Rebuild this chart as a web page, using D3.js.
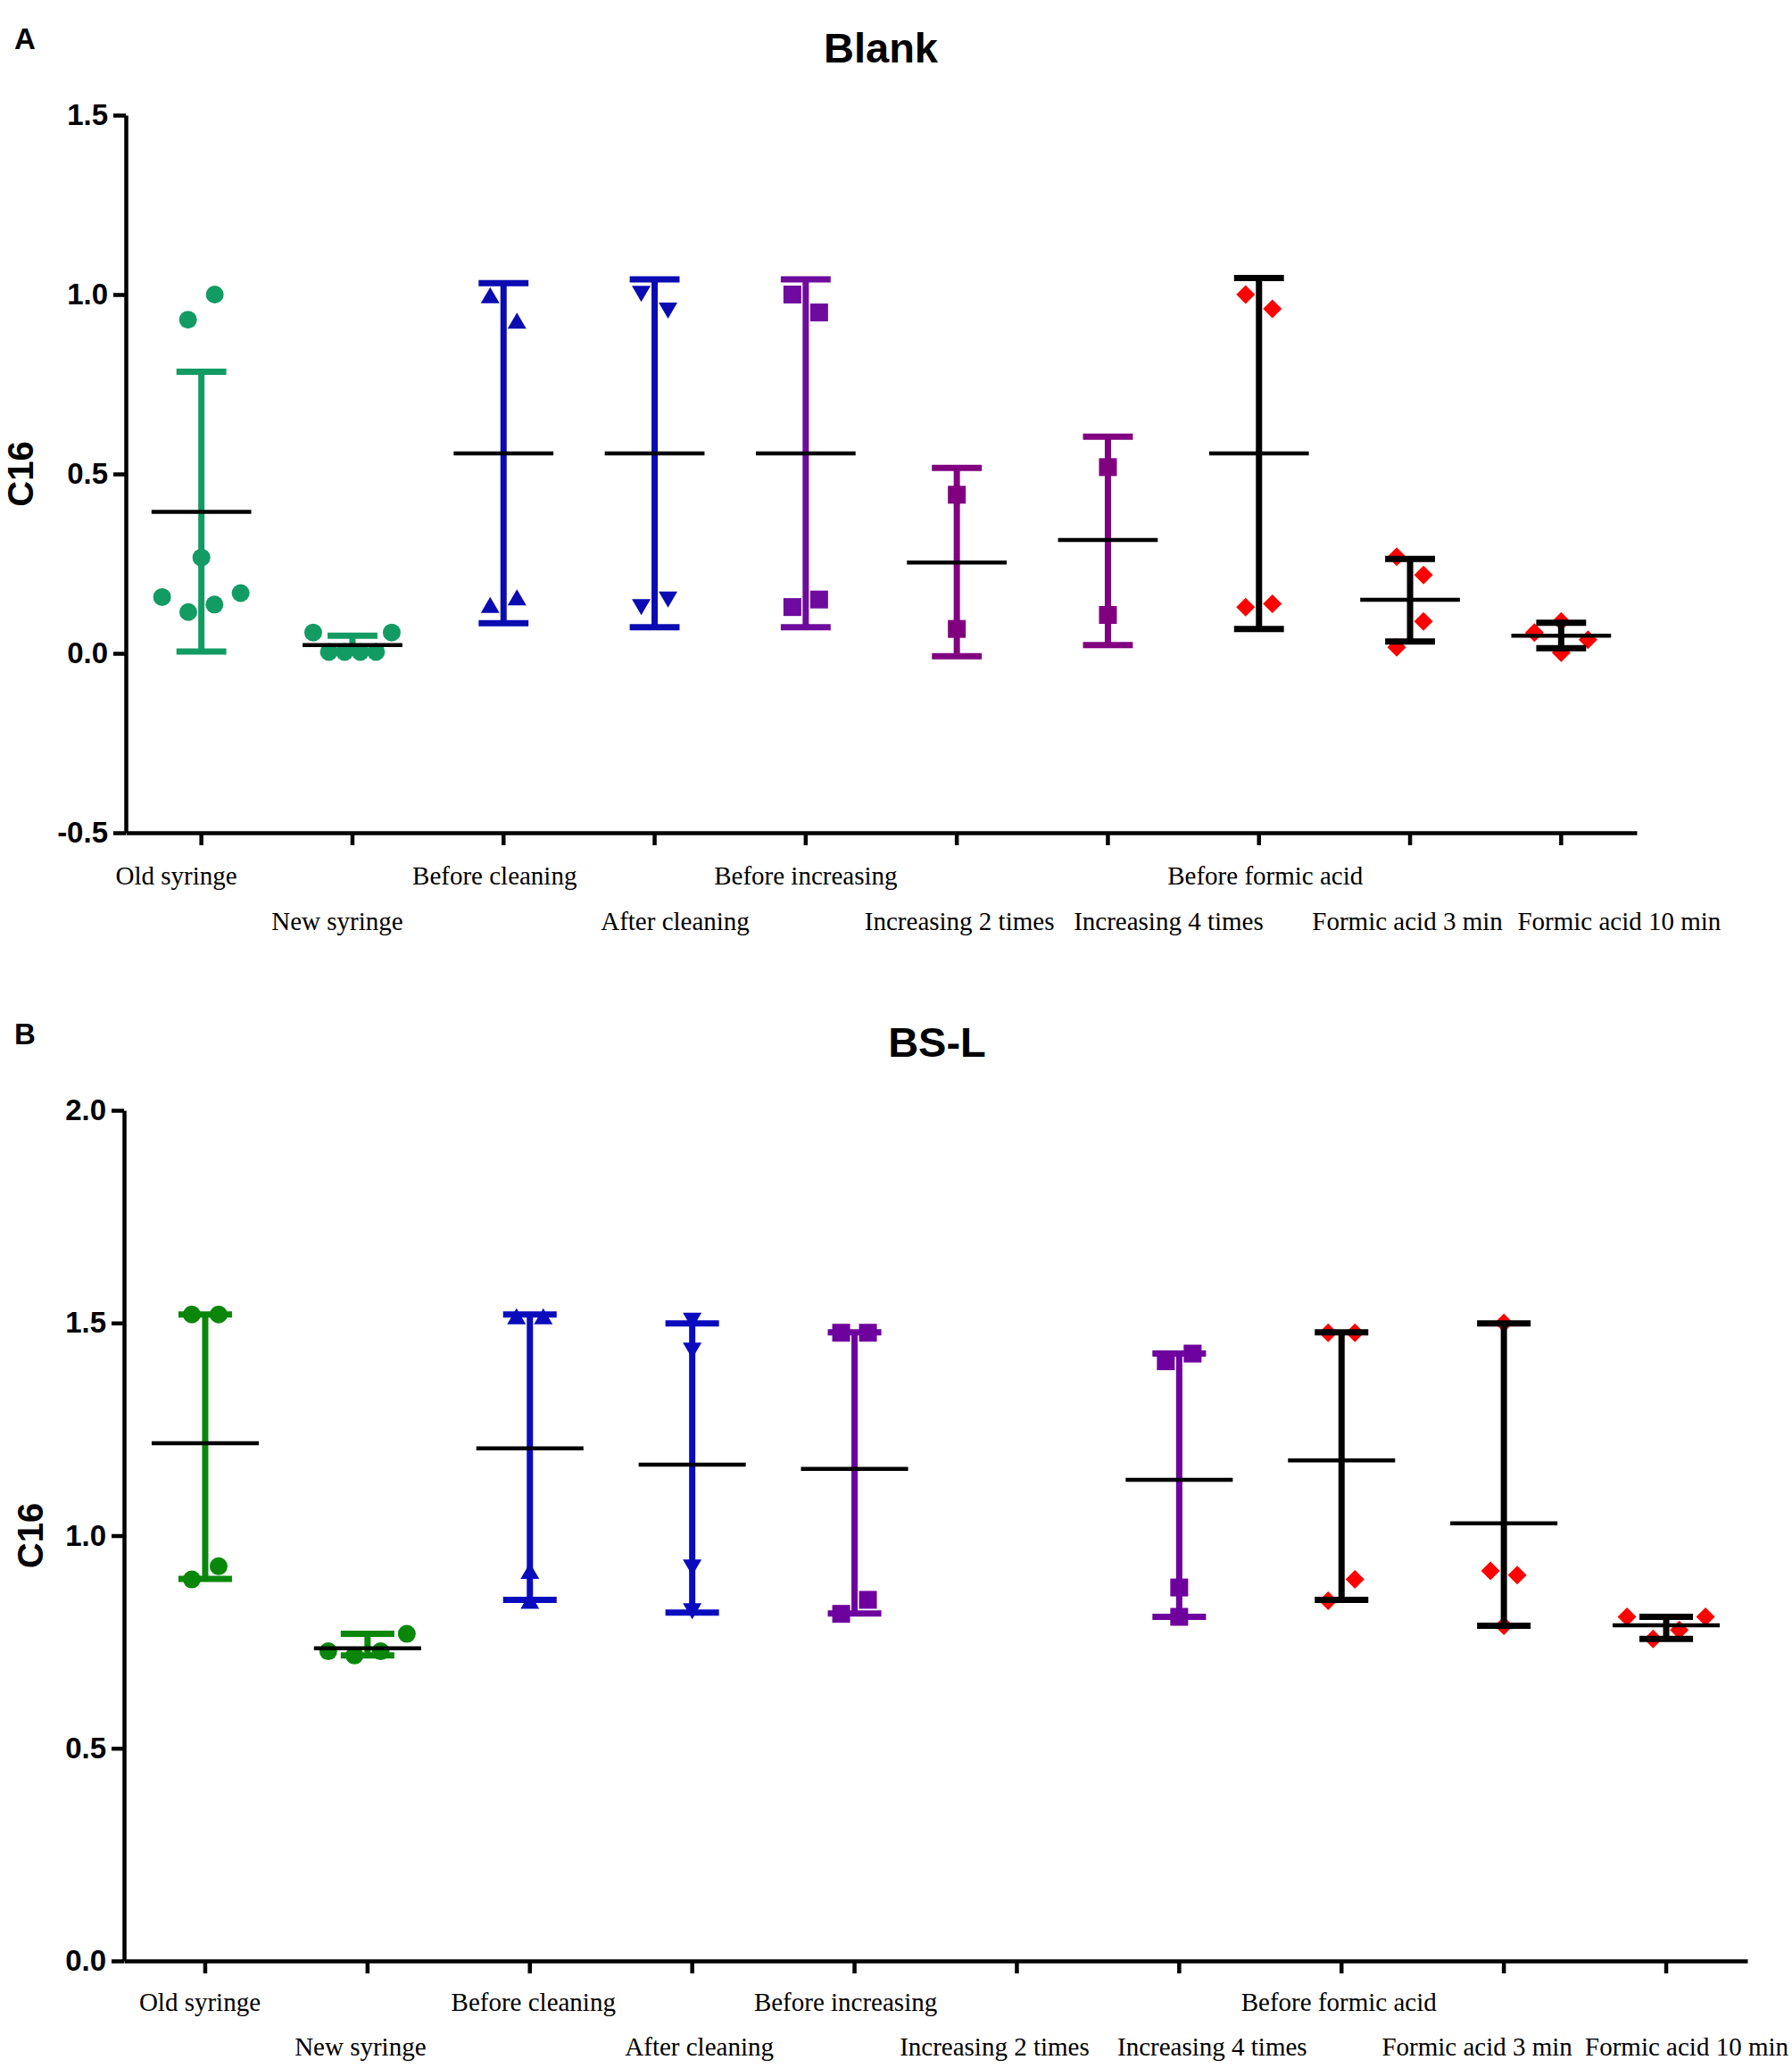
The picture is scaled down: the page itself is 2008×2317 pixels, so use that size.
<!DOCTYPE html>
<html>
<head>
<meta charset="utf-8">
<script src="https://cdn.jsdelivr.net/npm/d3@7"></script>
<style>
  body { margin: 0; background: #fff; }
  svg { display: block; }
</style>
</head>
<body>
<div id="chart"></div>
<script>
// ---- data ----
const categories = ["Old syringe", "New syringe", "Before cleaning", "After cleaning",
  "Before increasing", "Increasing 2 times", "Increasing 4 times",
  "Before formic acid", "Formic acid 3 min", "Formic acid 10 min"];

// panel A (Blank): individual points, mean and error-bar ends (mean ± SD)
const blankPoints = [
  [0.93, 1.0, 0.267, 0.157, 0.115, 0.136, 0.168],
  [0.058, 0.004, 0.004, 0.004, 0.004, 0.058],
  [0.998, 0.927, 0.135, 0.156],
  [1.002, 0.955, 0.129, 0.150],
  [1.0, 0.95, 0.129, 0.150],
  [0.442, 0.068],
  [0.519, 0.107],
  [1.0, 0.96, 0.129, 0.138],
  [0.269, 0.218, 0.017, 0.089],
  [0.058, 0.089, 0.038, 0.002]
];
const blankMean = [0.394, 0.023, 0.557, 0.557, 0.557, 0.253, 0.316, 0.557, 0.149, 0.049];
const blankLow  = [0.005, 0.005, 0.084, 0.073, 0.073, -0.008, 0.023, 0.068, 0.033, 0.014];
const blankHigh = [0.785, 0.049, 1.032, 1.042, 1.042, 0.517, 0.604, 1.046, 0.263, 0.085];
const blankTicks = [-0.5, 0.0, 0.5, 1.0, 1.5];

// panel B (BS-L): no data for "Increasing 2 times"
const bslPoints = [
  [1.52, 1.52, 0.897, 0.928],
  [0.728, 0.718, 0.728, 0.769],
  [1.516, 1.516, 0.917, 0.847],
  [1.505, 1.435, 0.925, 0.822],
  [1.477, 1.477, 0.816, 0.849],
  [],
  [1.41, 1.428, 0.878, 0.809],
  [1.477, 1.477, 0.847, 0.897],
  [1.5, 0.917, 0.907, 0.788],
  [0.809, 0.757, 0.778, 0.809]
];
const bslMean = [1.217, 0.735, 1.205, 1.167, 1.157, null, 1.131, 1.177, 1.029, 0.789];
const bslLow  = [0.898, 0.718, 0.849, 0.819, 0.817, null, 0.809, 0.849, 0.788, 0.757];
const bslHigh = [1.52, 0.769, 1.52, 1.499, 1.478, null, 1.428, 1.478, 1.499, 0.809];
const bslTicks = [0.0, 0.5, 1.0, 1.5, 2.0];

// ---- styling ----
const shapes = ["circle", "circle", "up", "down", "square", "square", "square", "diamond", "diamond", "diamond"];
const colorsA = ["#129b63", "#129b63", "#0b0bb2", "#0b0bb2", "#6e0a9e", "#800080", "#800080", "#ff0000", "#ff0000", "#ff0000"];
const barsA   = ["#129b63", "#129b63", "#0b0bb2", "#0b0bb2", "#6e0a9e", "#800080", "#800080", "#000", "#000", "#000"];
const colorsB = ["#0a870a", "#0a870a", "#0b0bbe", "#0b0bbe", "#6e009e", "#6e009e", "#6e009e", "#ff0000", "#ff0000", "#ff0000"];
const barsB   = ["#0a870a", "#0a870a", "#0b0bbe", "#0b0bbe", "#6e009e", "#6e009e", "#6e009e", "#000", "#000", "#000"];
const topRow = new Set([0, 2, 4, 7]);

const W = 2008, H = 2317;
const sans = "'Liberation Sans', Arial, sans-serif";
const serif = "'Liberation Serif', 'Times New Roman', serif";

const svg = d3.select("#chart").append("svg")
  .attr("width", W).attr("height", H);
svg.append("rect").attr("width", W).attr("height", H).attr("fill", "#fff");

function symbolPath(shape) {
  if (shape === "circle") return d3.symbol(d3.symbolCircle, Math.PI * 10 * 10)();
  if (shape === "up") return "M0,-9L10.5,9L-10.5,9Z";
  if (shape === "down") return "M0,9L10.5,-9L-10.5,-9Z";
  if (shape === "square") return "M-10,-10H10V10H-10Z";
  return "M0,-10.5L10.5,0L0,10.5L-10.5,0Z";
}

// scatter-dot layout: points that sit close in y share a row and are spread sideways
function spread(values, y) {
  const order = d3.range(values.length).sort((a, b) => values[b] - values[a]);
  const rows = [];
  let cur = null;
  order.forEach(i => {
    if (cur && y(values[i]) - y(values[cur[0]]) < 31) cur.push(i);
    else { cur = [i]; rows.push(cur); }
  });
  const dx = [];
  rows.forEach(r => {
    r.sort((a, b) => a - b);
    const n = r.length;
    const sp = n > 1 ? Math.min(30, 88 / (n - 1)) : 0;
    r.forEach((i, k) => dx[i] = (k - (n - 1) / 2) * sp);
  });
  return dx;
}

function drawPanel(p) {
  const x = d3.scaleBand().domain(categories).range([p.x0, p.x1]);
  const y = d3.scaleLinear().domain(p.domain).range([p.yBot, p.yTop]);
  const step = x.step();
  const g = svg.append("g");

  // points
  categories.forEach((c, i) => {
    const vals = p.points[i];
    const dx = spread(vals, y);
    g.append("g").selectAll("path")
      .data(vals)
      .join("path")
      .attr("d", symbolPath(shapes[i]))
      .attr("transform", (d, k) => `translate(${x(c) + step / 2 + dx[k]},${y(d)})`)
      .attr("fill", p.colors[i]);
  });

  // error bars and mean lines
  categories.forEach((c, i) => {
    if (p.mean[i] == null) return;
    const cx = x(c) + step / 2;
    const capW = step * 0.33, meanW = step * 0.66;
    const eb = g.append("g").attr("stroke", p.bars[i]).attr("stroke-width", 7);
    eb.append("line").attr("x1", cx).attr("x2", cx).attr("y1", y(p.low[i])).attr("y2", y(p.high[i]));
    [p.low[i], p.high[i]].forEach(v => {
      eb.append("line").attr("x1", cx - capW / 2).attr("x2", cx + capW / 2)
        .attr("y1", y(v)).attr("y2", y(v));
    });
    g.append("line").attr("x1", cx - meanW / 2).attr("x2", cx + meanW / 2)
      .attr("y1", y(p.mean[i])).attr("y2", y(p.mean[i]))
      .attr("stroke", "#000").attr("stroke-width", 4.5);
  });

  // axes
  const yAxis = g.append("g").attr("transform", `translate(${p.x0},0)`)
    .call(d3.axisLeft(y).tickValues(p.ticks).tickFormat(d => d.toFixed(1)).tickSize(14).tickSizeOuter(0).tickPadding(6));
  yAxis.select(".domain").attr("stroke-width", 4.5);
  yAxis.selectAll(".tick line").attr("stroke-width", 4.5);
  yAxis.selectAll(".tick text").attr("font-family", sans).attr("font-weight", "bold")
    .attr("font-size", 33).attr("fill", "#000");

  const xAxis = g.append("g").attr("transform", `translate(0,${p.yBot})`)
    .call(d3.axisBottom(x).tickFormat("").tickSize(14).tickSizeOuter(0));
  xAxis.select(".domain").attr("stroke-width", 4.5);
  xAxis.selectAll(".tick line").attr("stroke-width", 4.5);

  // category labels, staggered on two rows
  g.append("g").selectAll("text")
    .data(categories)
    .join("text")
    .attr("x", (d, i) => x(d) + step / 2 + p.shifts[i])
    .attr("y", (d, i) => topRow.has(i) ? p.rows[0] : p.rows[1])
    .attr("text-anchor", "middle")
    .attr("font-family", serif).attr("font-size", 29)
    .text(d => d);

  // titles
  g.append("text").attr("x", p.titleX).attr("y", p.titleY).attr("text-anchor", "middle")
    .attr("font-family", sans).attr("font-weight", "bold").attr("font-size", 47).text(p.title);
  g.append("text").attr("x", 16).attr("y", p.letterY)
    .attr("font-family", sans).attr("font-weight", "bold").attr("font-size", 33).text(p.letter);
  g.append("text").attr("transform", `translate(${p.ylabelX},${(p.yTop + p.yBot) / 2}) rotate(-90)`)
    .attr("text-anchor", "middle")
    .attr("font-family", sans).attr("font-weight", "bold").attr("font-size", 40).text("C16");
}

drawPanel({
  points: blankPoints, mean: blankMean, low: blankLow, high: blankHigh, ticks: blankTicks,
  colors: colorsA, bars: barsA, domain: [-0.5, 1.5],
  x0: 141, x1: 1834, yTop: 129, yBot: 933,
  title: "Blank", titleX: 987, titleY: 70, letter: "A", letterY: 55, ylabelX: 37,
  rows: [991, 1042], shifts: [-28, -17, -10, 23, 0, 3, 68, 7, -3, 65]
});

drawPanel({
  points: bslPoints, mean: bslMean, low: bslLow, high: bslHigh, ticks: bslTicks,
  colors: colorsB, bars: barsB, domain: [0, 2],
  x0: 139, x1: 1958, yTop: 1244, yBot: 2197,
  title: "BS-L", titleX: 1050, titleY: 1184, letter: "B", letterY: 1170, ylabelX: 48,
  rows: [2253, 2303], shifts: [-6, -8, 4, 8, -10, -25, 37, -3, -30, 23]
});
</script>
</body>
</html>
